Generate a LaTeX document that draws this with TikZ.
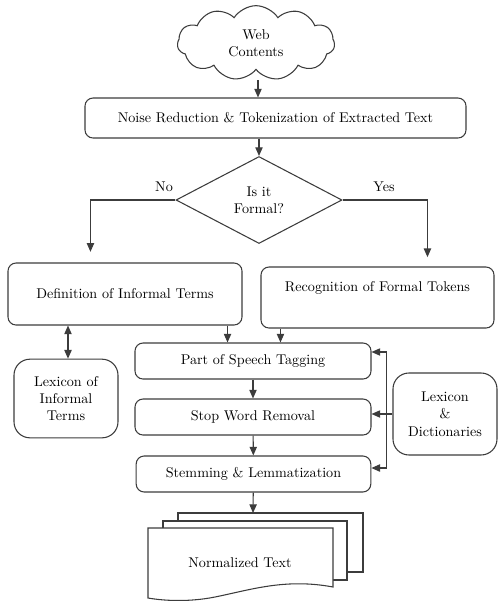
\documentclass[tikz,border=0pt]{standalone}
\usetikzlibrary{positioning,arrows.meta,calc,shapes.geometric,shapes.symbols}
\definecolor{flowline}{RGB}{60,60,60}

\begin{document}
\begin{tikzpicture}[
  x=0.75pt,y=-0.75pt,
  >={Triangle[length=6.5pt,width=5.5pt]},
  every node/.style={font=\fontsize{10.6}{13}\selectfont},
  procbox/.style={rectangle,rounded corners=6pt,draw=flowline,line width=0.8pt,align=center,inner sep=2pt},
  storebox/.style={rectangle,rounded corners=12pt,draw=flowline,line width=0.8pt,align=center,inner sep=2pt},
  decide/.style={diamond,draw=flowline,line width=0.8pt,align=center,inner sep=0pt,aspect=1.9},
  source/.style={cloud,cloud puffs=11,cloud puff arc=115,draw=flowline,line width=0.8pt,align=center,inner sep=0pt,aspect=2.1},
  flow/.style={->,line width=0.8pt,flowline},
  sheet/.style={line width=0.8pt,flowline,fill=white}
]
\useasboundingbox (0,0) rectangle (498,601);

% Source and pre-processing
\node[source,minimum width=118pt,minimum height=56pt] (web) at (256,43) {Web\\Contents};
\node[procbox,minimum width=285.75pt,minimum height=30pt] (noise) at (275.5,118) {Noise Reduction \& Tokenization of Extracted Text};
\node[decide,minimum width=124.5pt,minimum height=65.25pt] (formal) at (259,200) {Is it\\Formal?};
\node (no) at (164,187) {No};
\node (yes) at (384,187) {Yes};

% Informal / formal branches
\node[procbox,minimum width=175.5pt,minimum height=46.5pt] (defin) at (125,294) {Definition of Informal Terms};
\node[procbox,minimum width=174.75pt,minimum height=45.75pt,text depth=17pt] (recog) at (377.5,297.5) {Recognition of Formal Tokens};
\node[storebox,minimum width=78pt,minimum height=59pt] (lexinf) at (66,398.5) {Lexicon of\\Informal\\Terms};

% Normalisation steps
\node[procbox,minimum width=177pt,minimum height=27pt] (pos) at (253,361) {Part of Speech Tagging};
\node[procbox,minimum width=177pt,minimum height=27pt] (swr) at (253,417) {Stop Word Removal};
\node[procbox,minimum width=176pt,minimum height=27pt] (stem) at (253.5,474) {Stemming \& Lemmatization};
\node[storebox,minimum width=78pt,minimum height=61.5pt] (lexdic) at (445,414) {Lexicon\\\&\\Dictionaries};

% Output document stack
\draw[sheet] (178,528) -- (178,513) -- (363,513) -- (363,572) -- (340,572);
\draw[sheet] (163,528) -- (163,521) -- (347,521) -- (347,580) -- (333,580);
\draw[sheet] (148,528) -- (333,528) -- (333,587)
  .. controls (285,578) and (250,590) .. (215,597)
  .. controls (190,602) and (165,601) .. (148,598) -- cycle;
\node (normtext) at (240,563) {Normalized Text};
\coordinate (docs) at (253,513);

% Connectors
\coordinate (webfoot) at (258,80);
\coordinate (nohook) at ($(defin.north west)+(83,0)$);
\coordinate (yeshook) at ($(recog.north west)+(167,0)$);
\coordinate (defoot) at ($(defin.south east)+(-15,0)$);
\coordinate (recfoot) at ($(recog.south west)+(20,0)$);
\coordinate (lexhead) at ($(lexinf.north)+(2,0)$);
\coordinate (bus) at ($(lexdic.west)+(-6,0)$);
\coordinate (posin) at ($(pos.east)+(0,-9)$);
\coordinate (stemin) at ($(stem.east)+(0,-6)$);

\draw[flow] (webfoot) -- (webfoot |- noise.north);
\draw[flow] (formal.north |- noise.south) -- (formal.north);
\draw[flow,shorten >=8pt] (formal.west) -| (nohook);
\draw[flow,shorten >=7pt] (formal.east) -| (yeshook);
\draw[flow] (defoot) -- (defoot |- pos.north);
\draw[flow] (recfoot) -- (recfoot |- pos.north);
\draw[<->,line width=0.8pt,flowline] (lexhead) -- (lexhead |- defin.south);
\draw[flow] (pos) -- (swr);
\draw[flow] (swr) -- (stem);
\draw[flow] (stem) -- (docs);
\draw[flow] (lexdic.west) -- (lexdic.west -| swr.east);
\draw[flow] (bus) |- (posin);
\draw[flow] (bus) |- (stemin);
\end{tikzpicture}
\end{document}
